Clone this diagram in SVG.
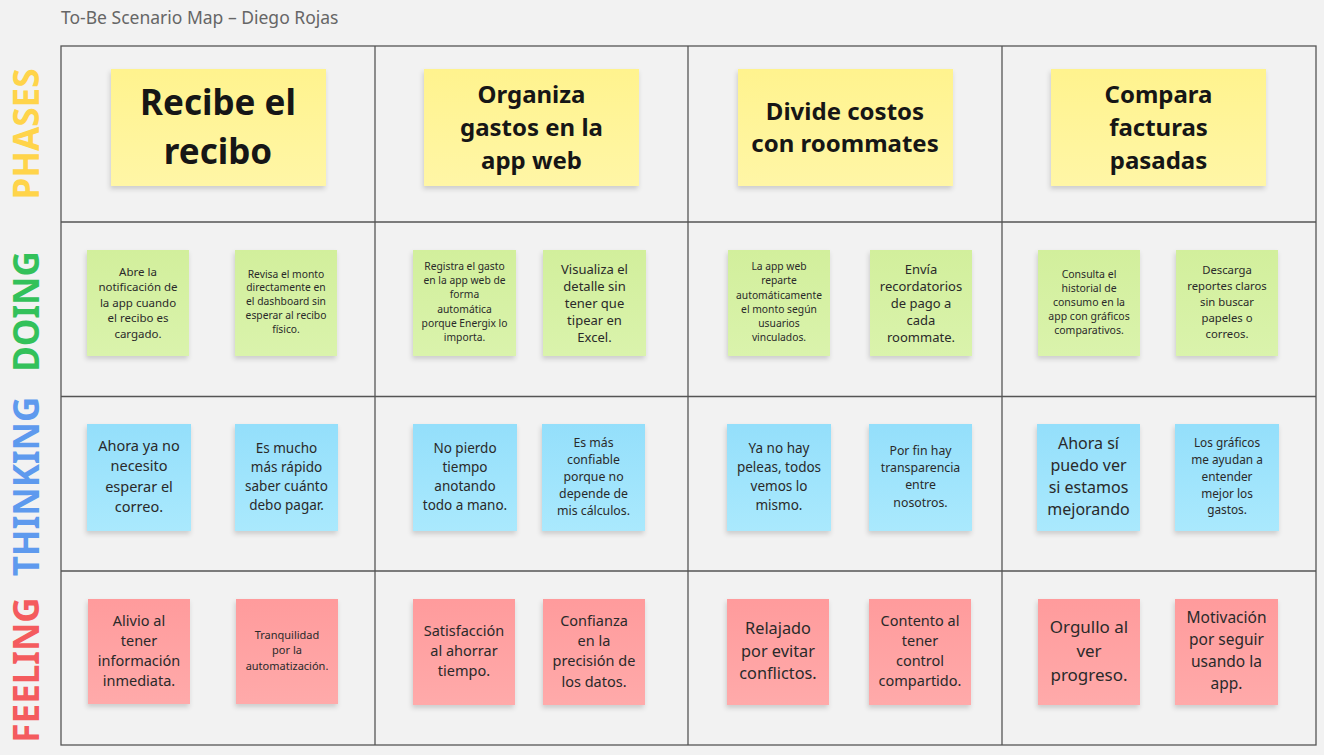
<svg xmlns="http://www.w3.org/2000/svg" width="1324" height="755" viewBox="0 0 1324 755">
<defs>
<filter id="sh" x="-10%" y="-10%" width="125%" height="130%">
<feDropShadow dx="-1" dy="3" stdDeviation="2.5" flood-color="#000" flood-opacity="0.16"/>
</filter>
<linearGradient id="gy" x1="0" y1="0" x2="0" y2="1"><stop offset="0" stop-color="#FFF38E"/><stop offset="1" stop-color="#FFF6A6"/></linearGradient>
<linearGradient id="gg" x1="0" y1="0" x2="0" y2="1"><stop offset="0" stop-color="#D2EF9C"/><stop offset="1" stop-color="#DAF3AC"/></linearGradient>
<linearGradient id="gb" x1="0" y1="0" x2="0" y2="1"><stop offset="0" stop-color="#94DFFB"/><stop offset="1" stop-color="#AAE9FD"/></linearGradient>
<linearGradient id="gp" x1="0" y1="0" x2="0" y2="1"><stop offset="0" stop-color="#FF9B9C"/><stop offset="1" stop-color="#FFAAAA"/></linearGradient>
</defs>
<style>
text{font-family:"Noto Sans","Open Sans","Liberation Sans",sans-serif;}
.t{fill:#2a2a2a;text-anchor:middle;}
.ph{fill:#161616;text-anchor:middle;font-weight:bold;}
.side{font-weight:bold;font-size:35px;text-anchor:middle;}
.grid{fill:none;stroke:#555;stroke-width:1.3;}
.y{fill:url(#gy);filter:url(#sh);}
.g{fill:url(#gg);filter:url(#sh);}
.b{fill:url(#gb);filter:url(#sh);}
.p{fill:url(#gp);filter:url(#sh);}
</style>
<rect width="1324" height="755" fill="#F2F2F2"/>
<text x="61" y="23.5" font-size="17.5" fill="#666">To-Be Scenario Map – Diego Rojas</text>

<g id="labels">
<text class="side" fill="#FFD44A" transform="translate(39,134) rotate(-90)">PHASES</text>
<text class="side" fill="#33C15A" transform="translate(39,311.5) rotate(-90)">DOING</text>
<text class="side" fill="#5E9AEE" transform="translate(39,486.5) rotate(-90)">THINKING</text>
<text class="side" fill="#F45B5E" transform="translate(39,670) rotate(-90)">FEELING</text>
</g>

<g id="grid">
<rect class="grid" x="61" y="46" width="1255" height="699"/>
<line class="grid" x1="375" y1="46" x2="375" y2="745"/>
<line class="grid" x1="688" y1="46" x2="688" y2="745"/>
<line class="grid" x1="1002" y1="46" x2="1002" y2="745"/>
<line class="grid" x1="61" y1="222" x2="1316" y2="222"/>
<line class="grid" x1="61" y1="396.5" x2="1316" y2="396.5"/>
<line class="grid" x1="61" y1="571" x2="1316" y2="571"/>
</g>

<g id="connectors"></g>

<!-- Phases -->
<g id="phase1"><rect class="y" x="111" y="69" width="215" height="117"/>
<text class="ph" font-size="35"><tspan x="218" y="115">Recibe el</tspan><tspan x="218" y="164">recibo</tspan></text></g>
<g id="phase2"><rect class="y" x="424" y="69" width="215" height="117"/>
<text class="ph" font-size="24"><tspan x="531.5" y="102.5">Organiza</tspan><tspan x="531.5" y="135.5">gastos en la</tspan><tspan x="531.5" y="168.5">app web</tspan></text></g>
<g id="phase3"><rect class="y" x="738" y="69" width="215" height="117"/>
<text class="ph" font-size="24"><tspan x="845" y="119.5">Divide costos</tspan><tspan x="845" y="151.5">con roommates</tspan></text></g>
<g id="phase4"><rect class="y" x="1051" y="69" width="215" height="117"/>
<text class="ph" font-size="24"><tspan x="1158.5" y="102.5">Compara</tspan><tspan x="1158.5" y="135.5">facturas</tspan><tspan x="1158.5" y="168.5">pasadas</tspan></text></g>

<!-- Doing -->
<g id="d1a"><rect class="g" x="87" y="250" width="102" height="106"/>
<text class="t" font-size="11.5"><tspan x="138" y="275.5">Abre la</tspan><tspan x="138" dy="15.6">notificación de</tspan><tspan x="138" dy="15.6">la app cuando</tspan><tspan x="138" dy="15.6">el recibo es</tspan><tspan x="138" dy="15.6">cargado.</tspan></text></g>
<g id="d1b"><rect class="g" x="235" y="250" width="102" height="106"/>
<text class="t" font-size="10.3"><tspan x="286" y="277.5">Revisa el monto</tspan><tspan x="286" dy="13.8">directamente en</tspan><tspan x="286" dy="13.8">el dashboard sin</tspan><tspan x="286" dy="13.8">esperar al recibo</tspan><tspan x="286" dy="13.8">físico.</tspan></text></g>
<g id="d2a"><rect class="g" x="413" y="250" width="103" height="106"/>
<text class="t" font-size="10.3"><tspan x="464.5" y="270.2">Registra el gasto</tspan><tspan x="464.5" dy="14.1">en la app web de</tspan><tspan x="464.5" dy="14.1">forma</tspan><tspan x="464.5" dy="14.1">automática</tspan><tspan x="464.5" dy="14.1">porque Energix lo</tspan><tspan x="464.5" dy="14.1">importa.</tspan></text></g>
<g id="d2b"><rect class="g" x="543" y="250" width="103" height="106"/>
<text class="t" font-size="13"><tspan x="594.5" y="273.6">Visualiza el</tspan><tspan x="594.5" dy="17">detalle sin</tspan><tspan x="594.5" dy="17">tener que</tspan><tspan x="594.5" dy="17">tipear en</tspan><tspan x="594.5" dy="17">Excel.</tspan></text></g>
<g id="d3a"><rect class="g" x="728" y="250" width="102" height="106"/>
<text class="t" font-size="10.3"><tspan x="779" y="270.2">La app web</tspan><tspan x="779" dy="14.2">reparte</tspan><tspan x="779" dy="14.2">automáticamente</tspan><tspan x="779" dy="14.2">el monto según</tspan><tspan x="779" dy="14.2">usuarios</tspan><tspan x="779" dy="14.2">vinculados.</tspan></text></g>
<g id="d3b"><rect class="g" x="870" y="250" width="102" height="106"/>
<text class="t" font-size="13"><tspan x="921" y="273.6">Envía</tspan><tspan x="921" dy="17">recordatorios</tspan><tspan x="921" dy="17">de pago a</tspan><tspan x="921" dy="17">cada</tspan><tspan x="921" dy="17">roommate.</tspan></text></g>
<g id="d4a"><rect class="g" x="1038" y="250" width="102" height="106"/>
<text class="t" font-size="10.5"><tspan x="1089" y="277.5">Consulta el</tspan><tspan x="1089" dy="14">historial de</tspan><tspan x="1089" dy="14">consumo en la</tspan><tspan x="1089" dy="14">app con gráficos</tspan><tspan x="1089" dy="14">comparativos.</tspan></text></g>
<g id="d4b"><rect class="g" x="1176" y="250" width="102" height="106"/>
<text class="t" font-size="11.3"><tspan x="1227" y="274">Descarga</tspan><tspan x="1227" dy="16">reportes claros</tspan><tspan x="1227" dy="16">sin buscar</tspan><tspan x="1227" dy="16">papeles o</tspan><tspan x="1227" dy="16">correos.</tspan></text></g>

<!-- Thinking -->
<g id="t1a"><rect class="b" x="87" y="424" width="104" height="107"/>
<text class="t" font-size="14.5"><tspan x="139" y="450.8">Ahora ya no</tspan><tspan x="139" dy="20.5">necesito</tspan><tspan x="139" dy="20.5">esperar el</tspan><tspan x="139" dy="20.5">correo.</tspan></text></g>
<g id="t1b"><rect class="b" x="235" y="424" width="103" height="107"/>
<text class="t" font-size="13.5"><tspan x="286.5" y="452.8">Es mucho</tspan><tspan x="286.5" dy="19">más rápido</tspan><tspan x="286.5" dy="19">saber cuánto</tspan><tspan x="286.5" dy="19">debo pagar.</tspan></text></g>
<g id="t2a"><rect class="b" x="413" y="424" width="104" height="107"/>
<text class="t" font-size="13.5"><tspan x="465" y="452.8">No pierdo</tspan><tspan x="465" dy="19">tiempo</tspan><tspan x="465" dy="19">anotando</tspan><tspan x="465" dy="19">todo a mano.</tspan></text></g>
<g id="t2b"><rect class="b" x="542" y="424" width="103" height="107"/>
<text class="t" font-size="12.3"><tspan x="593.5" y="446.7">Es más</tspan><tspan x="593.5" dy="17">confiable</tspan><tspan x="593.5" dy="17">porque no</tspan><tspan x="593.5" dy="17">depende de</tspan><tspan x="593.5" dy="17">mis cálculos.</tspan></text></g>
<g id="t3a"><rect class="b" x="727" y="424" width="104" height="107"/>
<text class="t" font-size="13.5"><tspan x="779" y="452.8">Ya no hay</tspan><tspan x="779" dy="19">peleas, todos</tspan><tspan x="779" dy="19">vemos lo</tspan><tspan x="779" dy="19">mismo.</tspan></text></g>
<g id="t3b"><rect class="b" x="869" y="424" width="103" height="107"/>
<text class="t" font-size="12.3"><tspan x="920.5" y="454.7">Por fin hay</tspan><tspan x="920.5" dy="17.3">transparencia</tspan><tspan x="920.5" dy="17.3">entre</tspan><tspan x="920.5" dy="17.3">nosotros.</tspan></text></g>
<g id="t4a"><rect class="b" x="1037" y="424" width="103" height="107"/>
<text class="t" font-size="16"><tspan x="1088.5" y="448.6">Ahora sí</tspan><tspan x="1088.5" dy="22.2">puedo ver</tspan><tspan x="1088.5" dy="22.2">si estamos</tspan><tspan x="1088.5" dy="22.2">mejorando</tspan></text></g>
<g id="t4b"><rect class="b" x="1175" y="424" width="104" height="107"/>
<text class="t" font-size="11.8"><tspan x="1227" y="447.2">Los gráficos</tspan><tspan x="1227" dy="16.8">me ayudan a</tspan><tspan x="1227" dy="16.8">entender</tspan><tspan x="1227" dy="16.8">mejor los</tspan><tspan x="1227" dy="16.8">gastos.</tspan></text></g>

<!-- Feeling -->
<g id="f1a"><rect class="p" x="88" y="599" width="102" height="105"/>
<text class="t" font-size="14.5"><tspan x="139" y="625.5">Alivio al</tspan><tspan x="139" dy="20.3">tener</tspan><tspan x="139" dy="20.3">información</tspan><tspan x="139" dy="20.3">inmediata.</tspan></text></g>
<g id="f1b"><rect class="p" x="236" y="599" width="102" height="105"/>
<text class="t" font-size="11"><tspan x="287" y="638.6">Tranquilidad</tspan><tspan x="287" dy="15.5">por la</tspan><tspan x="287" dy="15.5">automatización.</tspan></text></g>
<g id="f2a"><rect class="p" x="413" y="599" width="102" height="106"/>
<text class="t" font-size="14.5"><tspan x="464" y="635.8">Satisfacción</tspan><tspan x="464" dy="20.3">al ahorrar</tspan><tspan x="464" dy="20.3">tiempo.</tspan></text></g>
<g id="f2b"><rect class="p" x="543" y="599" width="102" height="106"/>
<text class="t" font-size="14.5"><tspan x="594" y="625.8">Confianza</tspan><tspan x="594" dy="20.3">en la</tspan><tspan x="594" dy="20.3">precisión de</tspan><tspan x="594" dy="20.3">los datos.</tspan></text></g>
<g id="f3a"><rect class="p" x="727" y="599" width="102" height="106"/>
<text class="t" font-size="16.3"><tspan x="778" y="633.7">Relajado</tspan><tspan x="778" dy="22.8">por evitar</tspan><tspan x="778" dy="22.8">conflictos.</tspan></text></g>
<g id="f3b"><rect class="p" x="869" y="599" width="102" height="106"/>
<text class="t" font-size="14.5"><tspan x="920" y="625.8">Contento al</tspan><tspan x="920" dy="20.2">tener</tspan><tspan x="920" dy="20.2">control</tspan><tspan x="920" dy="20.2">compartido.</tspan></text></g>
<g id="f4a"><rect class="p" x="1038" y="599" width="102" height="106"/>
<text class="t" font-size="17"><tspan x="1089" y="633">Orgullo al</tspan><tspan x="1089" dy="23.8">ver</tspan><tspan x="1089" dy="23.8">progreso.</tspan></text></g>
<g id="f4b"><rect class="p" x="1175" y="599" width="103" height="106"/>
<text class="t" font-size="15.5"><tspan x="1226.5" y="623.4">Motivación</tspan><tspan x="1226.5" dy="21.9">por seguir</tspan><tspan x="1226.5" dy="21.9">usando la</tspan><tspan x="1226.5" dy="21.9">app.</tspan></text></g>
</svg>
